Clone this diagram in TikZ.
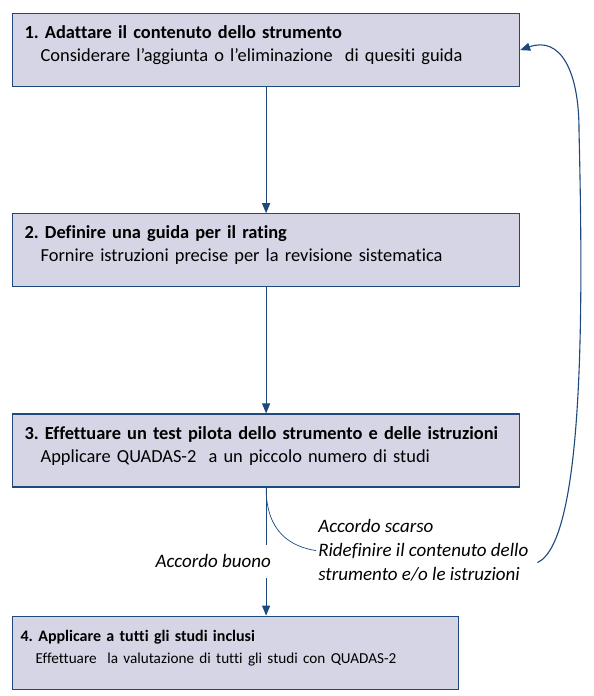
\documentclass[tikz,border=0pt]{standalone}
\usepackage{fontspec}
\setmainfont[Ligatures=NoCommon]{Carlito}
\usepackage{xcolor}
\usetikzlibrary{arrows.meta, positioning}
\frenchspacing
\definecolor{quadasline}{HTML}{1F497D}
\definecolor{quadasfill}{HTML}{D5D5E5}
\tikzset{
  stepbox/.style={draw=quadasline, fill=quadasfill, line width=1.2pt, align=left,
                  font=\fontsize{18.4}{23}\selectfont, inner xsep=12pt, inner ysep=0pt,
                  text width=483pt, minimum height=73pt, text height=12pt, text depth=35pt},
  flow/.style={-{Triangle[length=10pt, width=8pt]}, line width=1.1pt, draw=quadasline},
  plain/.style={line width=1.1pt, draw=quadasline},
  lbl/.style={font=\fontsize{19}{24}\selectfont\itshape, align=left, inner sep=2pt},
}
\begin{document}
\begin{tikzpicture}[x=1pt, y=-1pt]
  \fill[white] (0,0) rectangle (594,696);
  \useasboundingbox (0,0) rectangle (594,696);

  \node[stepbox, anchor=north west] (adapt) at (12,13)
    {\textbf{1. Adattare il contenuto dello strumento}\\
     \hspace*{16pt}Considerare l’aggiunta o l’eliminazione\ \ di quesiti guida};
  \node[stepbox, below=126pt of adapt] (guide)
    {\textbf{2. Definire una guida per il rating}\\
     \hspace*{16pt}Fornire istruzioni precise per la revisione sistematica};
  \node[stepbox, below=126pt of guide] (pilot)
    {\textbf{3. Effettuare un test pilota dello strumento e delle istruzioni}\\
     \hspace*{16pt}Applicare QUADAS-2\ \ a un piccolo numero di studi};
  \node[stepbox, font=\fontsize{16}{22}\selectfont, inner xsep=8pt, text width=430pt,
        text depth=34pt, below=128pt of pilot.south west, anchor=north west] (apply)
    {\textbf{4. Applicare a tutti gli studi inclusi}\\
     \hspace*{15pt}{\fontsize{15.2}{22}\selectfont Effettuare\ \ la valutazione di tutti gli studi con QUADAS-2}};

  \node[lbl, inner ysep=10pt, below=57pt of pilot.south, anchor=north east, xshift=7pt]
    (good) {Accordo buono};
  \node[lbl, below right=63pt and 50pt of pilot.south, anchor=west]
    (poor) {Accordo scarso\\ Ridefinire il contenuto dello\\ strumento e/o le istruzioni};

  \draw[flow] (adapt) -- (guide);
  \draw[flow] (guide) -- (pilot);
  \draw[plain] (pilot.south) -- (pilot.south |- good.north);
  \draw[flow] (pilot.south |- good.south) -- (pilot.south |- apply.north);
  \draw[quadasline, line width=0.7pt] (pilot.south) .. controls +(0,45) and +(-25,-4) .. (poor.west);
  \draw[flow] ([xshift=7pt, yshift=-12pt]poor.east) .. controls (585,540) and (583,300) .. (579,130)
    .. controls (579,70) and (560,36) .. (adapt.east);
\end{tikzpicture}
\end{document}
